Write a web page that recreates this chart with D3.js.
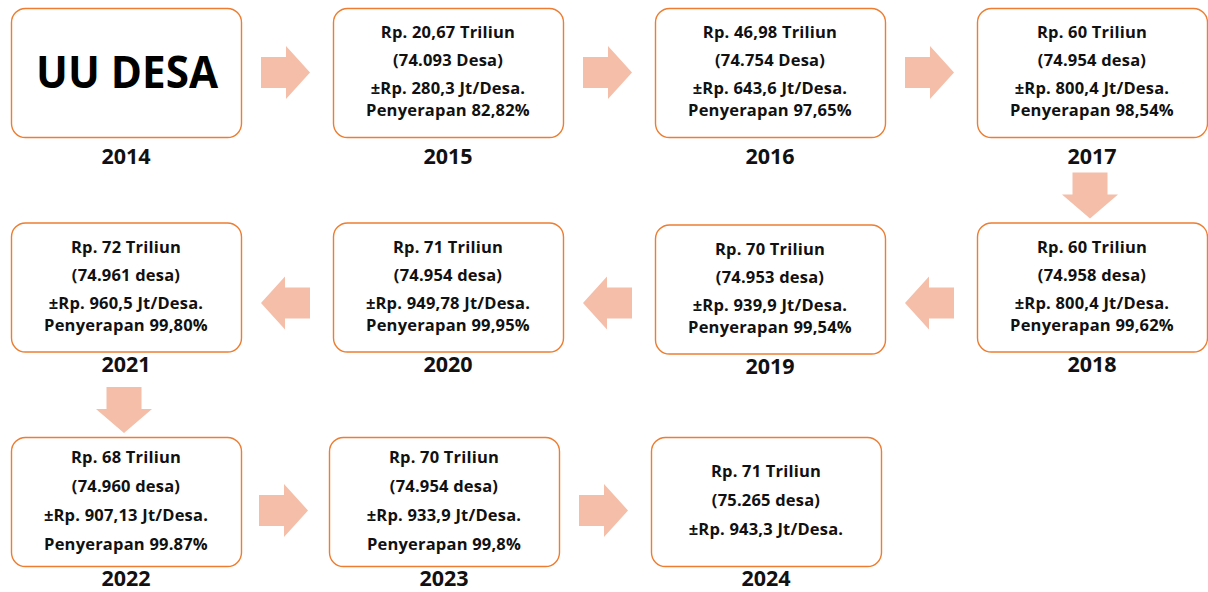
<!DOCTYPE html>
<html><head><meta charset="utf-8">
<script src="https://cdn.jsdelivr.net/npm/d3@7"></script>
<style>html,body{margin:0;padding:0;background:#fff;}svg{display:block;}</style>
</head><body>
<script>
// ---- data ----
const years = ["2014","2015","2016","2017","2018","2019","2020","2021","2022","2023","2024"];
const anggaran = ["UU DESA","Rp. 20,67 Triliun","Rp. 46,98 Triliun","Rp. 60 Triliun","Rp. 60 Triliun","Rp. 70 Triliun","Rp. 71 Triliun","Rp. 72 Triliun","Rp. 68 Triliun","Rp. 70 Triliun","Rp. 71 Triliun"];
const jumlahDesa = ["","(74.093 Desa)","(74.754 Desa)","(74.954 desa)","(74.958 desa)","(74.953 desa)","(74.954 desa)","(74.961 desa)","(74.960 desa)","(74.954 desa)","(75.265 desa)"];
const perDesa = ["","±Rp. 280,3 Jt/Desa.","±Rp. 643,6 Jt/Desa.","±Rp. 800,4 Jt/Desa.","±Rp. 800,4 Jt/Desa.","±Rp. 939,9 Jt/Desa.","±Rp. 949,78 Jt/Desa.","±Rp. 960,5 Jt/Desa.","±Rp. 907,13 Jt/Desa.","±Rp. 933,9 Jt/Desa.","±Rp. 943,3 Jt/Desa."];
const penyerapan = ["","Penyerapan 82,82%","Penyerapan 97,65%","Penyerapan 98,54%","Penyerapan 99,62%","Penyerapan 99,54%","Penyerapan 99,95%","Penyerapan 99,80%","Penyerapan 99.87%","Penyerapan 99,8%",""];

// ---- layout ----
const W = 1208, H = 592, boxW = 230, boxH = 129;
const FONT = "'Open Sans', 'Noto Sans', sans-serif";
const ORANGE = "#ED7D31", ARROW = "#F4BEA9";
const x = d3.scaleLinear().domain([0, 3]).range([11, 977]);
const y = d3.scaleLinear().domain([0, 2]).range([8, 437]);

const nodes = years.map((yr, i) => {
  const row = Math.floor(i / 4);
  const col = row % 2 === 0 ? i % 4 : 3 - (i % 4);
  let bx = x(col), by = y(row);
  if (row === 2 && col > 0) bx -= 4;
  if (yr === "2019") by += 2;
  return {i, yr, row, col, bx, by};
});

const svg = d3.select("body").append("svg").attr("width", W).attr("height", H);

// arrows
function hArrow(cx, cy, dir) { // dir 1 right, -1 left
  const L = 49, shaftL = 25, hh = 26.5, sh = 15.5;
  const x0 = cx - dir * L / 2, xs = x0 + dir * shaftL, xt = cx + dir * L / 2;
  return `M${x0},${cy - sh}L${xs},${cy - sh}L${xs},${cy - hh}L${xt},${cy}L${xs},${cy + hh}L${xs},${cy + sh}L${x0},${cy + sh}Z`;
}
function vArrow(cx, yTop) {
  const shaftL = 22, L = 46, hw = 28, sw = 17.5;
  const ys = yTop + shaftL, yt = yTop + L;
  return `M${cx - sw},${yTop}L${cx + sw},${yTop}L${cx + sw},${ys}L${cx + hw},${ys}L${cx},${yt}L${cx - hw},${ys}L${cx - sw},${ys}Z`;
}
const arrows = [];
for (let k = 0; k < nodes.length - 1; k++) {
  const a = nodes[k], b = nodes[k + 1];
  if (a.row === b.row) {
    const dir = b.col > a.col ? 1 : -1;
    const left = dir === 1 ? a : b, right = dir === 1 ? b : a;
    const cx = (left.bx + boxW + right.bx) / 2 - 1.5;
    const cy = Math.min(a.by, b.by) + boxH / 2 + (a.row === 1 ? 16 : (a.row === 2 ? 9 : 0));
    arrows.push(hArrow(cx, cy, dir));
  } else {
    arrows.push(vArrow(a.bx + boxW / 2 - 2, b.by - 50));
  }
}
svg.selectAll("path.arrow").data(arrows).join("path")
  .attr("class", "arrow").attr("d", d => d).attr("fill", ARROW);

// boxes
const g = svg.selectAll("g.node").data(nodes).join("g").attr("class", "node")
  .attr("transform", d => `translate(${d.bx},${d.by})`);
g.append("rect").attr("x", 0.5).attr("y", 0.5).attr("width", boxW).attr("height", boxH)
  .attr("rx", 14).attr("fill", "#fff").attr("stroke", ORANGE).attr("stroke-width", 1.4);

const yearOff = [27, 20, 20];
g.append("text").attr("x", boxW / 2).attr("y", d => boxH + yearOff[d.row])
  .attr("text-anchor", "middle").attr("font-family", FONT).attr("font-weight", 700)
  .attr("font-size", 21.5).attr("fill", "#111").text(d => d.yr);

g.each(function(d) {
  const sel = d3.select(this);
  if (d.i === 0) {
    sel.append("text").attr("x", boxW / 2 + 1).attr("y", boxH / 2).attr("dy", "0.36em")
      .attr("text-anchor", "middle").attr("font-family", FONT).attr("font-weight", 700)
      .attr("font-size", 44).attr("textLength", 182).attr("lengthAdjust", "spacingAndGlyphs")
      .attr("fill", "#000").text(anggaran[0]);
    return;
  }
  const lines = [anggaran[d.i], jumlahDesa[d.i], perDesa[d.i], penyerapan[d.i]].filter(s => s);
  const gaps = d.row === 2 ? [29, 29, 29] : [28, 28, 22];
  const offs = [0];
  for (let k = 1; k < lines.length; k++) offs.push(offs[k - 1] + gaps[k - 1]);
  const span = offs[offs.length - 1];
  const top = boxH / 2 - span / 2 - 1;
  sel.selectAll("text.l").data(lines).join("text").attr("class", "l")
    .attr("x", boxW / 2).attr("y", (s, k) => top + offs[k]).attr("dy", "0.36em")
    .attr("text-anchor", "middle").attr("font-family", FONT).attr("font-weight", 700)
    .attr("font-size", 16.5).attr("letter-spacing", 0.2).attr("fill", "#111").text(s => s);
});
</script>
</body></html>
